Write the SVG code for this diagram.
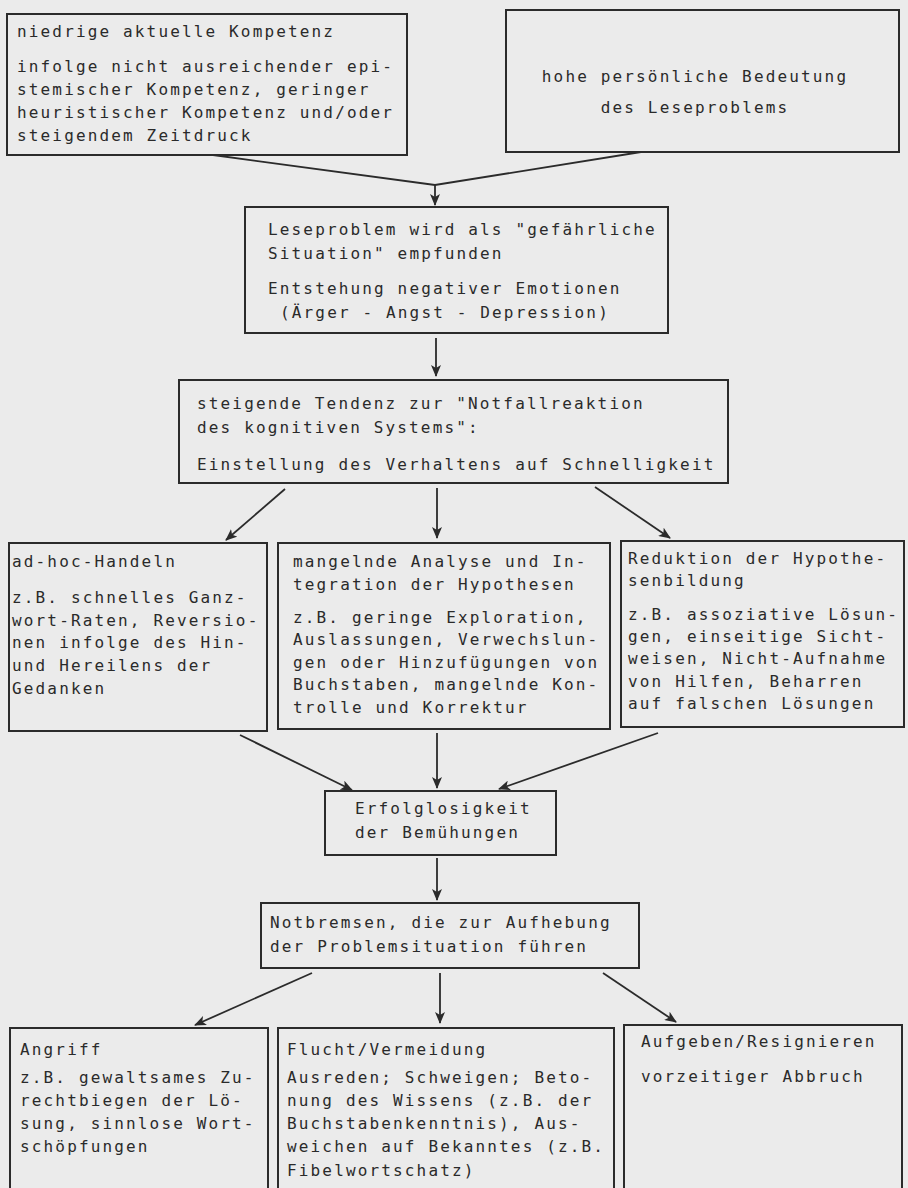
<svg xmlns="http://www.w3.org/2000/svg" width="908" height="1188" viewBox="0 0 908 1188">
<defs>
<style>
.bg{fill:#ebebeb}
.box{fill:#ebebeb;stroke:#2b2b2b;stroke-width:2}
.t{font-family:"DejaVu Sans Mono","Liberation Mono",monospace;font-size:16px;letter-spacing:2.15px;fill:#2a2a2a}
.c{text-anchor:middle}
.con{fill:none;stroke:#2b2b2b;stroke-width:1.8}
</style>
<marker id="ah" viewBox="0 0 12 10" refX="11" refY="5" markerWidth="12" markerHeight="10" markerUnits="userSpaceOnUse" orient="auto">
<path d="M0,0 L12,5 L0,10 L3,5 z" fill="#2b2b2b"/>
</marker>
</defs>
<rect class="bg" x="0" y="0" width="908" height="1188"/>

<g id="connectors">
<path class="con" d="M213,155 L435,185 L641,152"/>
<path class="con" d="M435,185 L435,205" marker-end="url(#ah)"/>
<path class="con" d="M436,338 L436,376" marker-end="url(#ah)"/>
<path class="con" d="M285,489 L226,540" marker-end="url(#ah)"/>
<path class="con" d="M437,488 L437,538" marker-end="url(#ah)"/>
<path class="con" d="M595,487 L670,538" marker-end="url(#ah)"/>
<path class="con" d="M240,735 L352,790" marker-end="url(#ah)"/>
<path class="con" d="M437,733 L437,788" marker-end="url(#ah)"/>
<path class="con" d="M658,733 L499,789" marker-end="url(#ah)"/>
<path class="con" d="M437,858 L437,900" marker-end="url(#ah)"/>
<path class="con" d="M312,973 L195,1025" marker-end="url(#ah)"/>
<path class="con" d="M440,973 L440,1023" marker-end="url(#ah)"/>
<path class="con" d="M603,973 L676,1022" marker-end="url(#ah)"/>
</g>

<g id="node-kompetenz">
<rect class="box" x="7" y="14" width="400" height="141"/>
<text class="t" x="17" y="37">niedrige aktuelle Kompetenz</text>
<text class="t" x="17" y="72">infolge nicht ausreichender epi-</text>
<text class="t" x="17" y="95">stemischer Kompetenz, geringer</text>
<text class="t" x="17" y="118">heuristischer Kompetenz und/oder</text>
<text class="t" x="17" y="141">steigendem Zeitdruck</text>
</g>

<g id="node-bedeutung">
<rect class="box" x="506" y="10" width="393" height="142"/>
<text class="t c" x="695" y="82">hohe persönliche Bedeutung</text>
<text class="t c" x="695" y="113">des Leseproblems</text>
</g>

<g id="node-gefahr">
<rect class="box" x="245" y="207" width="423" height="126"/>
<text class="t" x="268" y="235">Leseproblem wird als "gefährliche</text>
<text class="t" x="268" y="259">Situation" empfunden</text>
<text class="t" x="268" y="294">Entstehung negativer Emotionen</text>
<text class="t" x="280" y="318">(Ärger - Angst - Depression)</text>
</g>

<g id="node-notfall">
<rect class="box" x="179" y="380" width="549" height="103"/>
<text class="t" x="197" y="409">steigende Tendenz zur "Notfallreaktion</text>
<text class="t" x="197" y="433">des kognitiven Systems":</text>
<text class="t" x="197" y="470">Einstellung des Verhaltens auf Schnelligkeit</text>
</g>

<g id="node-adhoc">
<rect class="box" x="9" y="543" width="258" height="188"/>
<text class="t" x="12" y="567">ad-hoc-Handeln</text>
<text class="t" x="12" y="603">z.B. schnelles Ganz-</text>
<text class="t" x="12" y="626">wort-Raten, Reversio-</text>
<text class="t" x="12" y="648">nen infolge des Hin-</text>
<text class="t" x="12" y="671">und Hereilens der</text>
<text class="t" x="12" y="694">Gedanken</text>
</g>

<g id="node-analyse">
<rect class="box" x="278" y="543" width="332" height="186"/>
<text class="t" x="293" y="567">mangelnde Analyse und In-</text>
<text class="t" x="293" y="590">tegration der Hypothesen</text>
<text class="t" x="293" y="623">z.B. geringe Exploration,</text>
<text class="t" x="293" y="645">Auslassungen, Verwechslun-</text>
<text class="t" x="293" y="668">gen oder Hinzufügungen von</text>
<text class="t" x="293" y="690">Buchstaben, mangelnde Kon-</text>
<text class="t" x="293" y="713">trolle und Korrektur</text>
</g>

<g id="node-reduktion">
<rect class="box" x="621" y="541" width="283" height="186"/>
<text class="t" x="628" y="564">Reduktion der Hypothe-</text>
<text class="t" x="628" y="586">senbildung</text>
<text class="t" x="628" y="620">z.B. assoziative Lösun-</text>
<text class="t" x="628" y="642">gen, einseitige Sicht-</text>
<text class="t" x="628" y="664">weisen, Nicht-Aufnahme</text>
<text class="t" x="628" y="687">von Hilfen, Beharren</text>
<text class="t" x="628" y="709">auf falschen Lösungen</text>
</g>

<g id="node-erfolglos">
<rect class="box" x="325" y="791" width="231" height="64"/>
<text class="t" x="355" y="814">Erfolglosigkeit</text>
<text class="t" x="355" y="838">der Bemühungen</text>
</g>

<g id="node-notbremsen">
<rect class="box" x="261" y="903" width="378" height="65"/>
<text class="t" x="270" y="928">Notbremsen, die zur Aufhebung</text>
<text class="t" x="270" y="952">der Problemsituation führen</text>
</g>

<g id="node-angriff">
<rect class="box" x="10" y="1028" width="258" height="170"/>
<text class="t" x="20" y="1055">Angriff</text>
<text class="t" x="20" y="1083">z.B. gewaltsames Zu-</text>
<text class="t" x="20" y="1106">rechtbiegen der Lö-</text>
<text class="t" x="20" y="1129">sung, sinnlose Wort-</text>
<text class="t" x="20" y="1152">schöpfungen</text>
</g>

<g id="node-flucht">
<rect class="box" x="278" y="1028" width="336" height="170"/>
<text class="t" x="287" y="1055">Flucht/Vermeidung</text>
<text class="t" x="287" y="1083">Ausreden; Schweigen; Beto-</text>
<text class="t" x="287" y="1106">nung des Wissens (z.B. der</text>
<text class="t" x="287" y="1129">Buchstabenkenntnis), Aus-</text>
<text class="t" x="287" y="1152">weichen auf Bekanntes (z.B.</text>
<text class="t" x="287" y="1176">Fibelwortschatz)</text>
</g>

<g id="node-aufgeben">
<rect class="box" x="624" y="1025" width="278" height="173"/>
<text class="t" x="641" y="1047">Aufgeben/Resignieren</text>
<text class="t" x="641" y="1082">vorzeitiger Abbruch</text>
</g>
</svg>
